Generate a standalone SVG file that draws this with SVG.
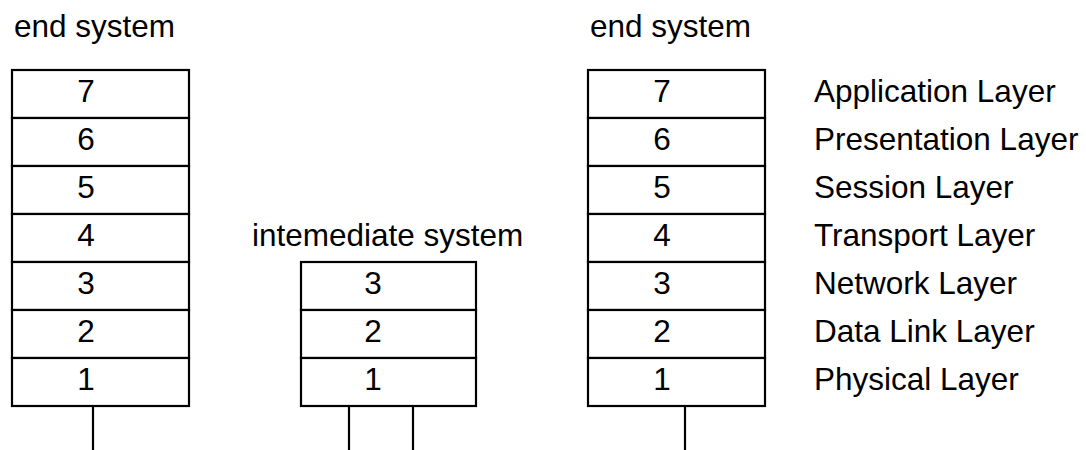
<svg xmlns="http://www.w3.org/2000/svg" width="1086" height="450" viewBox="0 0 1086 450">
<style>
.box{fill:#fff;stroke:#000;stroke-width:2.2}
.ln{stroke:#000;stroke-width:2.2;fill:none}
text{font-family:"Liberation Sans",Arial,sans-serif;font-size:31.5px;fill:#000}
.c{text-anchor:middle}
</style>
<rect width="1086" height="450" fill="#fff"/>
<g id="connectors">
<line class="ln" x1="93" y1="406" x2="93" y2="450"/>
<line class="ln" x1="349" y1="406" x2="349" y2="450"/>
<line class="ln" x1="413" y1="406" x2="413" y2="450"/>
<line class="ln" x1="685" y1="406" x2="685" y2="450"/>
</g>
<g id="left-end-system">
<text x="14" y="37">end system</text>
<rect class="box" x="12" y="70" width="177" height="48"/>
<rect class="box" x="12" y="118" width="177" height="48"/>
<rect class="box" x="12" y="166" width="177" height="48"/>
<rect class="box" x="12" y="214" width="177" height="48"/>
<rect class="box" x="12" y="262" width="177" height="48"/>
<rect class="box" x="12" y="310" width="177" height="48"/>
<rect class="box" x="12" y="358" width="177" height="48"/>
<text class="c" x="86" y="102">7</text>
<text class="c" x="86" y="150">6</text>
<text class="c" x="86" y="198">5</text>
<text class="c" x="86" y="246">4</text>
<text class="c" x="86" y="294">3</text>
<text class="c" x="86" y="342">2</text>
<text class="c" x="86" y="390">1</text>
</g>
<g id="intermediate-system">
<text x="252" y="246">intemediate system</text>
<rect class="box" x="301" y="262" width="175" height="48"/>
<rect class="box" x="301" y="310" width="175" height="48"/>
<rect class="box" x="301" y="358" width="175" height="48"/>
<text class="c" x="373" y="294">3</text>
<text class="c" x="373" y="342">2</text>
<text class="c" x="373" y="390">1</text>
</g>
<g id="right-end-system">
<text x="590" y="37">end system</text>
<rect class="box" x="588" y="70" width="177" height="48"/>
<rect class="box" x="588" y="118" width="177" height="48"/>
<rect class="box" x="588" y="166" width="177" height="48"/>
<rect class="box" x="588" y="214" width="177" height="48"/>
<rect class="box" x="588" y="262" width="177" height="48"/>
<rect class="box" x="588" y="310" width="177" height="48"/>
<rect class="box" x="588" y="358" width="177" height="48"/>
<text class="c" x="662" y="102">7</text>
<text class="c" x="662" y="150">6</text>
<text class="c" x="662" y="198">5</text>
<text class="c" x="662" y="246">4</text>
<text class="c" x="662" y="294">3</text>
<text class="c" x="662" y="342">2</text>
<text class="c" x="662" y="390">1</text>
</g>
<g id="layer-names">
<text x="814" y="102">Application Layer</text>
<text x="814" y="150">Presentation Layer</text>
<text x="814" y="198">Session Layer</text>
<text x="814" y="246">Transport Layer</text>
<text x="814" y="294">Network Layer</text>
<text x="814" y="342">Data Link Layer</text>
<text x="814" y="390">Physical Layer</text>
</g>
</svg>
